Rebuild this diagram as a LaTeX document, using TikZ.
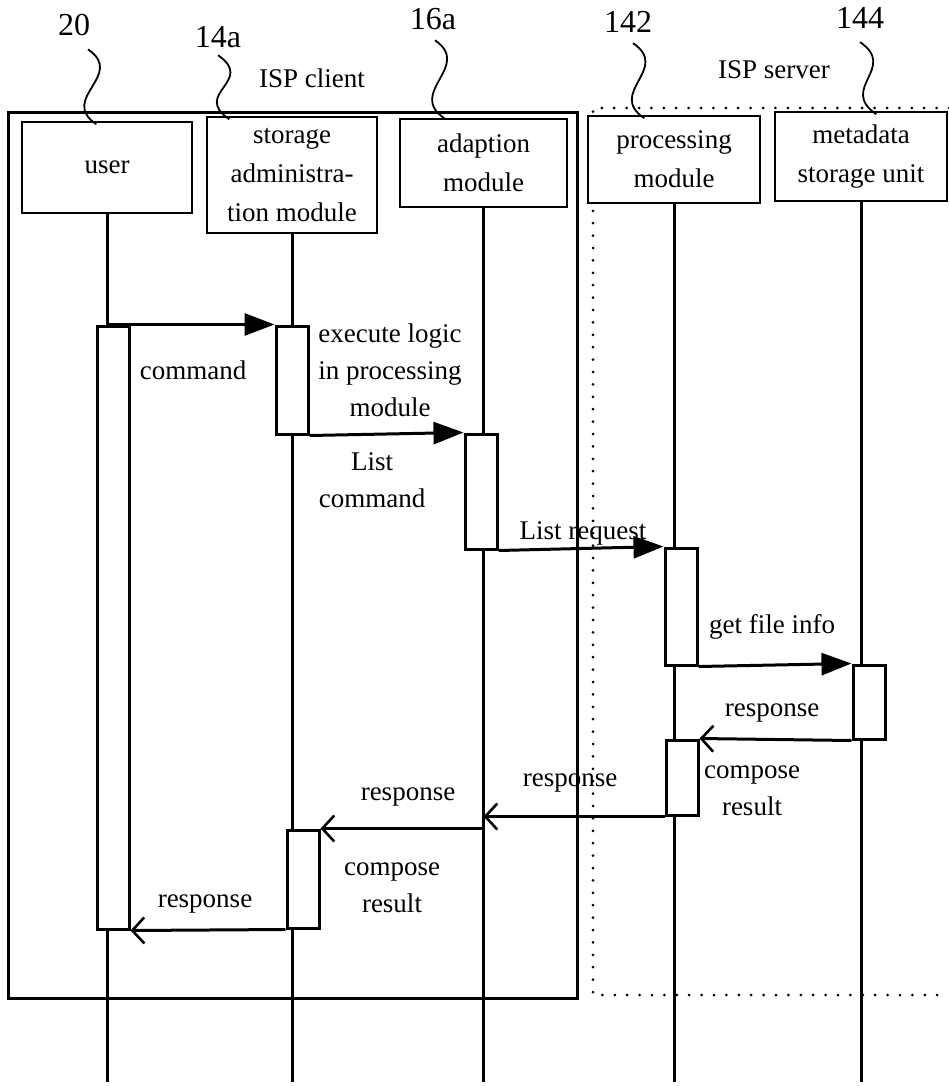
\documentclass[tikz,border=0pt]{standalone}
\usepackage{fontspec}
\setmainfont{Liberation Serif}
\usetikzlibrary{arrows.meta, calc, positioning}
\tikzset{
	headnode/.style={
			shape=rectangle,
			draw=black,
			line width=1.5pt,
			fill=white,
			minimum width=170pt,
			align=center,
			font=\fontsize{27}{39}\selectfont,
			inner sep=0pt
		},
	actnode/.style={
			shape=rectangle,
			draw=black,
			line width=3pt,
			fill=white,
			minimum width=32pt,
			inner sep=0pt
		},
	lifeline/.style={line width=3pt},
	syncmsg/.style={line width=3pt, -{Triangle[length=30pt,width=22pt]}},
	replymsg/.style={line width=3pt, -{Straight Barb[length=12pt,width=26pt,line width=2.6pt]}},
	leader/.style={line width=1.8pt},
	refnum/.style={font=\fontsize{32}{36}\selectfont},
	msgtext/.style={align=center, inner sep=0pt}
}
\newcommand{\squiggle}[2]{\draw[leader] (#1) .. controls +(38,26) and +(-38,-26) .. (#2);}

\begin{document}
\begin{tikzpicture}[x=1pt, y=-1pt, font=\fontsize{27}{37}\selectfont]
	\useasboundingbox (0,0) rectangle (949,1086);
	\coordinate (bottom) at (0,1082);

	\draw[line width=3pt] (8,113) rectangle (577,998);
	\draw[line width=3pt, line cap=round, dash pattern=on 0pt off 12.4pt] (949,108) -- (593,108) -- (593,995) -- (949,995);

	\node[refnum] (n20) at (74,25) {20};
	\node[refnum] (n14a) at (218,37) {14a};
	\node[refnum] (n16a) at (433,19) {16a};
	\node[refnum] (n142) at (628,22) {142};
	\node[refnum] (n144) at (860,18) {144};
	\node (client) at (312,78) {ISP client};
	\node (server) at (774,70) {ISP server};

	\node[headnode, minimum height=91pt] (user) at (107,167.5) {user};
	\node[headnode, minimum height=116pt] (store) at (292,175) {storage\\administra-\\tion module};
	\node[headnode, minimum width=167pt, minimum height=88pt] (adapt) at (483.5,163) {adaption\\module};
	\node[headnode, minimum width=172pt, minimum height=87pt] (proc) at (674,159.5) {processing\\module};
	\node[headnode, minimum width=172pt, minimum height=89pt] (meta) at (861,156.5) {metadata\\storage unit};

	\squiggle{$(n20.south)+(14,10)$}{$(user.north west)+(75,3)$}
	\squiggle{$(n14a.south)+(0,4)$}{$(store.north west)+(23,3)$}
	\squiggle{$(n16a.south)+(2,7)$}{$(adapt.north west)+(45,0)$}
	\squiggle{$(n142.south)+(5,7)$}{$(proc.north west)+(57,3)$}
	\squiggle{$(n144.south)+(0,10)$}{$(meta.north west)+(102,3)$}

	\foreach \n in {user,store,adapt,proc,meta}
		\draw[lifeline] (\n.south) -- (\n.south |- bottom);

	\node[actnode, minimum height=603pt] (uA) at (113,627.5) {};
	\node[actnode, minimum height=108pt] (sA1) at (292,380) {};
	\node[actnode, minimum height=115pt] (aA) at (481,491.5) {};
	\node[actnode, minimum height=117pt] (pA1) at (681,606.5) {};
	\node[actnode, minimum height=74pt] (mA) at (869,702) {};
	\node[actnode, minimum height=75pt] (pA2) at (682,777.5) {};
	\node[actnode, minimum height=98pt] (sA2) at (303,879) {};

	\draw[syncmsg] (user.south |- uA.north) -- (sA1.north west);
	\draw[syncmsg] (sA1.south east) -- (aA.north west);
	\draw[syncmsg] (aA.south east) -- (pA1.north west);
	\draw[syncmsg] (pA1.south east) -- (mA.north west);
	\draw[replymsg] (mA.south west) -- (pA2.north east);
	\draw[replymsg] (pA2.south west) -- (adapt.south |- pA2.south);
	\draw[replymsg] (adapt.south |- sA2.north) -- (sA2.north east);
	\draw[replymsg] (sA2.south west) -- (uA.south east);

	\node[msgtext] (lcmd) at (193,370) {command};
	\node[msgtext] (lexec) at (390,370) {execute logic\\in processing\\module};
	\node[msgtext] (llist) at (372,480) {List\\command};
	\node[msgtext] (lreq) at (583,533) {List request};
	\node[msgtext] (lget) at (772,627) {get file info};
	\node[msgtext] (lresp1) at (772,713) {response};
	\node[msgtext] (lcomp1) at (752,791) {compose\\result};
	\node[msgtext] (lresp2) at (570,783) {response};
	\node[msgtext] (lresp3) at (408,797) {response};
	\node[msgtext] (lcomp2) at (392,888) {compose\\result};
	\node[msgtext] (lresp4) at (205,904) {response};
\end{tikzpicture}
\end{document}
